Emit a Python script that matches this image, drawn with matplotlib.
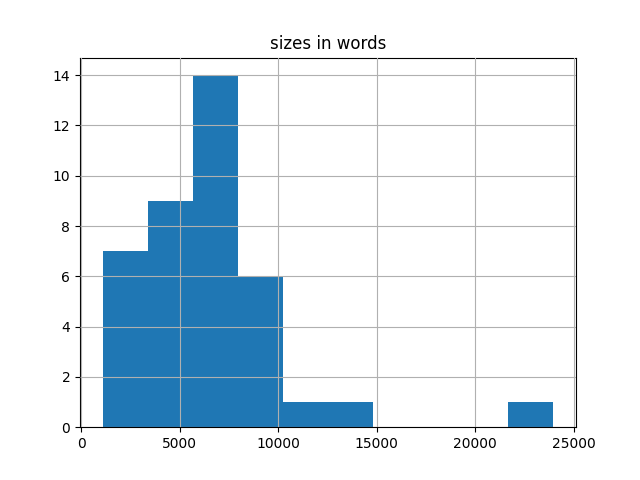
import numpy as np
import matplotlib
matplotlib.use("Agg")
import matplotlib.pyplot as plt

# histogram: 10 equal bins between min and max size
min_size = 1070
max_size = 23980
counts = [7, 9, 14, 6, 1, 1, 0, 0, 0, 1]

edges = np.linspace(min_size, max_size, len(counts) + 1)

fig, ax = plt.subplots(figsize=(6.4, 4.8), dpi=100)
ax.hist(edges[:-1], bins=edges, weights=counts, color="#1f77b4")
ax.grid(True)
ax.set_axisbelow(False)
ax.set_title("sizes in words")

fig.savefig("out.png")
